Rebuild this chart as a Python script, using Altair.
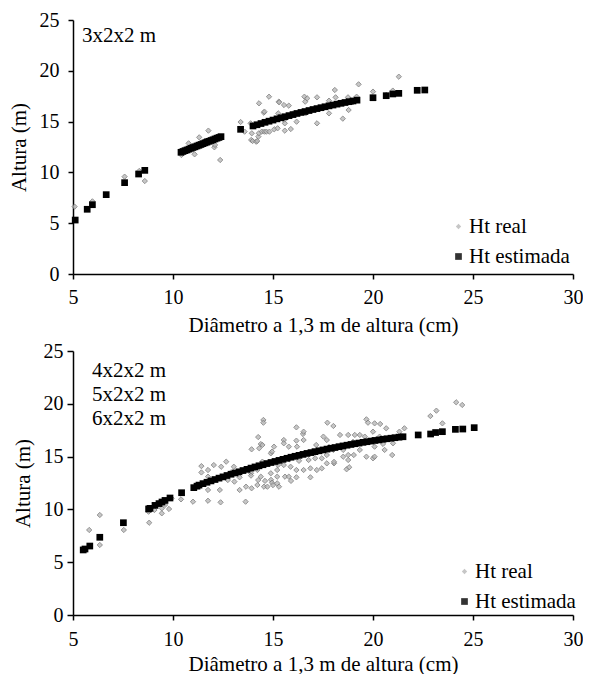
import altair as alt
import pandas as pd

FONT = "Liberation Serif"
FS = 21
TICK_FS = 20
SERIES = ["Ht real", "Ht estimada"]
X_TICKS = [5, 10, 15, 20, 25, 30]
Y_TICKS = [0, 5, 10, 15, 20, 25]
X_TITLE = "Diâmetro a 1,3 m de altura (cm)"
Y_TITLE = "Altura (m)"

# ---------------- top panel (3x2x2 m) ----------------
top_real_d = [5.08, 5.97, 7.58, 8.31, 8.59, 10.42, 10.78, 11.08, 11.31, 11.40, 11.60, 11.77,
              12.07, 12.10, 12.20, 12.36, 13.38, 13.58, 13.88, 13.91, 13.94, 13.98, 14.16,
              14.21, 14.27, 14.29, 14.30, 14.44, 14.54, 14.57, 14.57, 14.67, 14.80, 14.82,
              15.06, 15.23, 15.26, 15.29, 15.31, 15.55, 15.55, 15.59, 15.59, 15.79, 15.89,
              16.00, 16.18, 16.57, 16.61, 16.63, 16.71, 17.20, 17.20, 17.50, 17.80, 17.80,
              18.09, 18.13, 18.49, 18.75, 18.78, 19.00, 19.18, 19.28, 20.00, 20.66, 20.99,
              21.29]
top_real_h = [6.63, 7.15, 9.58, 10.14, 9.15, 11.71, 12.86, 11.78, 13.45, 12.60, 13.12, 14.11,
              12.47, 12.70, 13.40, 11.22, 14.96, 14.01, 14.83, 13.19, 13.85, 13.09, 13.02,
              13.09, 13.52, 13.85, 16.80, 14.01, 15.88, 15.98, 14.01, 14.01, 17.45, 14.01,
              14.24, 14.34, 15.81, 16.96, 16.90, 16.63, 15.16, 14.83, 14.11, 16.57, 14.27,
              15.80, 14.99, 17.45, 16.96, 15.81, 17.29, 17.39, 14.83, 16.30, 17.06, 15.81,
              18.11, 17.39, 15.29, 17.39, 16.14, 16.90, 17.45, 18.67, 17.95, 17.62, 18.05,
              19.42]

top_est_d = [5.11, 5.71, 5.97, 6.66, 7.58, 8.28, 8.59,
             10.4, 10.5, 10.6, 10.7, 10.8, 10.9, 11.0, 11.1, 11.2, 11.3, 11.4, 11.5, 11.6,
             11.7, 11.8, 11.9, 12.0, 12.1, 12.2, 12.3, 12.4,
             13.38,
             14.0, 14.2, 14.4, 14.6, 14.8, 15.0, 15.2, 15.4, 15.6, 15.8, 16.0, 16.2, 16.4,
             16.6, 16.8, 17.0, 17.2, 17.4, 17.6, 17.8, 18.0, 18.2, 18.4, 18.6, 18.8, 19.0, 19.2,
             20.0, 20.66, 20.99, 21.29, 22.21, 22.59]
top_est_h = [5.31, 6.37, 6.82, 7.81, 8.99, 9.84, 10.20,
             11.98, 12.06, 12.14, 12.21, 12.29, 12.37, 12.45, 12.52, 12.60, 12.68, 12.75, 12.83,
             12.91, 12.98, 13.06, 13.14, 13.21, 13.29, 13.37, 13.44, 13.52,
             14.24,
             14.57, 14.69, 14.81, 14.93, 15.04, 15.15, 15.27, 15.38, 15.48, 15.59, 15.69, 15.80,
             15.90, 15.99, 16.09, 16.19, 16.28, 16.37, 16.46, 16.55, 16.63, 16.72, 16.80, 16.88,
             16.96, 17.03, 17.11,
             17.35, 17.55, 17.72, 17.78, 18.08, 18.11]
top_note = ["3x2x2 m"]

# ---------------- bottom panel (4x2x2, 5x2x2, 6x2x2 m) ----------------
bot_real_d = [5.81, 6.34, 6.34, 7.54, 8.81, 8.78, 9.07, 9.44, 9.44, 9.60, 9.80, 9.93, 10.40,
              11.00, 11.42, 11.42, 11.75, 11.75, 11.75, 11.75, 12.04, 12.20, 12.34, 12.38,
              12.41, 12.66, 12.74, 12.90, 13.04, 13.07, 13.33, 13.33, 13.50, 13.63, 13.65,
              13.90, 13.90, 13.93, 13.93, 14.22, 14.26, 14.22, 14.26, 14.31, 14.39, 14.39,
              14.47, 14.47, 14.52, 14.52, 14.55, 14.60, 14.72, 14.89, 14.89, 14.90, 14.95,
              14.95, 15.00, 15.05, 15.21, 15.21, 15.21, 15.21, 15.25, 15.30, 15.54, 15.54,
              15.54, 15.60, 15.79, 15.81, 15.88, 15.79, 15.90, 16.12, 16.17, 16.17, 16.17,
              16.17, 16.20, 16.30, 16.50, 16.53, 16.53, 16.53, 16.78, 16.87, 16.87, 17.00,
              17.11, 17.16, 17.19, 17.44, 17.44, 17.52, 17.69, 17.69, 17.69, 17.72, 17.80,
              18.02, 18.02, 18.05, 18.05, 18.35, 18.51, 18.51, 18.68, 18.76, 18.76, 18.76,
              18.81, 19.00, 19.04, 19.09, 19.34, 19.34, 19.59, 19.67, 19.67, 19.75, 20.00,
              20.00, 20.08, 20.08, 20.08, 20.33, 20.36, 20.50, 20.58, 20.66, 21.00, 20.96,
              21.32, 21.57, 22.87, 23.17, 23.47, 24.16, 24.46]
bot_real_h = [8.05, 9.47, 6.63, 8.05, 8.74, 9.78, 9.94, 9.63, 10.10, 10.42, 10.04, 11.05, 10.95,
              10.73, 14.10, 13.50, 10.82, 11.84, 13.10, 13.73, 14.20, 12.90, 11.84, 10.67,
              14.04, 14.52, 12.78, 13.50, 14.04, 12.63, 11.84, 13.04, 13.60, 10.73, 12.15,
              13.42, 13.20, 15.69, 12.00, 13.73, 12.78, 12.31, 16.85, 15.79, 13.10, 16.19,
              14.52, 16.10, 18.47, 18.21, 12.15, 12.70, 12.15, 13.42, 15.31, 12.80, 15.47,
              12.53, 12.30, 15.94, 13.10, 13.73, 12.47, 14.42, 14.20, 12.15, 16.57, 16.26,
              14.20, 13.10, 15.94, 14.74, 14.04, 13.10, 12.70, 14.99, 17.77, 16.51, 13.04,
              13.73, 15.94, 14.60, 17.14, 17.36, 16.57, 13.73, 14.68, 13.04, 13.89, 15.40,
              14.84, 16.10, 13.73, 13.89, 14.84, 16.89, 16.57, 15.15, 14.36, 18.21, 15.90,
              17.90, 15.63, 14.36, 14.50, 17.05, 14.99, 15.63, 13.80, 17.05, 15.15, 14.68,
              13.99, 16.40, 15.15, 17.05, 17.05, 15.63, 16.89, 18.53, 14.99, 18.21, 17.36,
              14.84, 18.15, 15.94, 14.99, 16.89, 18.09, 16.20, 15.63, 17.68, 16.26, 15.15,
              17.36, 17.68, 18.84, 19.35, 18.15, 20.14, 19.89]

bot_est_d = [5.51, 5.60, 5.84, 6.34, 7.52, 8.78, 8.85, 9.10, 9.30, 9.45, 9.60, 9.85, 10.43,
             11.04, 11.20, 11.30,
             11.5, 11.7, 11.9, 12.1, 12.3, 12.5, 12.7, 12.9, 13.1, 13.3, 13.5, 13.7, 13.9,
             14.1, 14.3, 14.5, 14.7, 14.9, 15.1, 15.3, 15.5, 15.7, 15.9, 16.1, 16.3, 16.5,
             16.7, 16.9, 17.1, 17.3, 17.5, 17.7, 17.9, 18.1, 18.3, 18.5, 18.7, 18.9, 19.1,
             19.3, 19.5, 19.7, 19.9, 20.1, 20.3, 20.5, 20.7, 20.9, 21.1, 21.3, 21.5,
             22.26, 22.88, 23.13, 23.47, 24.12, 24.49, 25.06]
bot_est_h = [6.16, 6.25, 6.53, 7.36, 8.74, 10.04, 10.10, 10.38, 10.55, 10.70, 10.85, 11.08, 11.58,
             12.06, 12.20, 12.30,
             12.44, 12.57, 12.70, 12.83, 12.96, 13.08, 13.21, 13.33, 13.45, 13.56, 13.68, 13.79,
             13.91, 14.02, 14.13, 14.23, 14.34, 14.44, 14.54, 14.64, 14.74, 14.84, 14.94, 15.03,
             15.12, 15.21, 15.30, 15.38, 15.47, 15.55, 15.63, 15.71, 15.79, 15.86, 15.94, 16.01,
             16.08, 16.15, 16.22, 16.28, 16.35, 16.41, 16.47, 16.53, 16.58, 16.64, 16.69, 16.74,
             16.79, 16.84, 16.88,
             17.05, 17.14, 17.28, 17.36, 17.58, 17.61, 17.74]
bot_note = ["4x2x2 m", "5x2x2 m", "6x2x2 m"]


def panel(real_d, real_h, est_d, est_h, w, h, note, note_x, note_y,
          leg_x, leg_y, y_lab_pad, y_tick, y_title_pad, x_lab_pad, x_title_pad):
    real = pd.DataFrame({"d": real_d, "h": real_h, "serie": "Ht real"})
    est = pd.DataFrame({"d": est_d, "h": est_h, "serie": "Ht estimada"})
    note_df = pd.DataFrame({"note": ["\n".join(note)]})

    x = alt.X("d:Q", scale=alt.Scale(domain=[5, 30], nice=False, zero=False),
              axis=alt.Axis(values=X_TICKS, title=X_TITLE, labelPadding=x_lab_pad,
                            titlePadding=x_title_pad, tickSize=5, labelFlush=False))
    y = alt.Y("h:Q", scale=alt.Scale(domain=[0, 25], nice=False),
              axis=alt.Axis(values=Y_TICKS, title=Y_TITLE, labelPadding=y_lab_pad,
                            titlePadding=y_title_pad, tickSize=y_tick))
    legend = alt.Legend(title=None, orient="none", legendX=leg_x, legendY=leg_y,
                        labelFont=FONT, labelFontSize=FS, labelColor="black",
                        rowPadding=8, labelOffset=0, symbolOffset=5, symbolStrokeWidth=0)
    color = alt.Color("serie:N", scale=alt.Scale(domain=SERIES, range=["#b8b8b8", "#000000"]),
                      legend=legend)
    shape = alt.Shape("serie:N", scale=alt.Scale(domain=SERIES, range=["diamond", "square"]),
                      legend=legend)
    size = alt.Size("serie:N", scale=alt.Scale(domain=SERIES, range=[28, 45]), legend=legend)

    real_layer = alt.Chart(real).mark_point(filled=True, opacity=0.8, stroke="#7a7a7a",
                                            strokeWidth=1).encode(
        x=x, y=y, color=color, shape=shape, size=size)
    est_layer = alt.Chart(est).mark_point(filled=True, opacity=1).encode(
        x=x, y=y, color=color, shape=shape, size=size)
    note_layer = alt.Chart(note_df).mark_text(
        align="left", baseline="top", font=FONT, fontSize=FS, color="black",
        lineHeight=24, lineBreak="\n").encode(
        x=alt.value(note_x), y=alt.value(note_y), text="note:N")
    return alt.layer(real_layer, est_layer, note_layer).properties(width=w, height=h)


top = panel(top_real_d, top_real_h, top_est_d, top_est_h, 500, 254,
            top_note, 9, 5, 370, 196, 9, 5, 10, 8, 7)
bottom = panel(bot_real_d, bot_real_h, bot_est_d, bot_est_h, 500, 264,
               bot_note, 19, 9, 376, 210, 4, 6, 10, 9, 4)

chart = alt.vconcat(top, bottom, spacing=77, bounds="flush").resolve_scale(
    color="independent", shape="independent", size="independent"
).resolve_legend(
    color="independent", shape="independent", size="independent"
).properties(
    padding={"left": 0, "top": 2, "right": 0, "bottom": 0}
).configure_axis(
    labelFont=FONT, labelFontSize=TICK_FS, labelColor="black",
    titleFont=FONT, titleFontSize=FS, titleFontWeight="normal", titleColor="black",
    domainColor="black", tickColor="black", domainWidth=1.5, tickWidth=1.5, grid=False
).configure_view(stroke=None)

chart.save("out.html", embed_options={"renderer": "svg", "actions": False})
